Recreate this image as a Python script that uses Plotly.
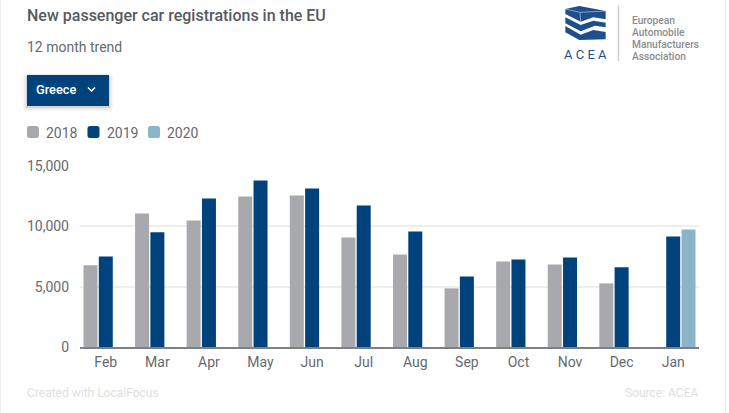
import plotly.graph_objects as go

months = ["Feb", "Mar", "Apr", "May", "Jun", "Jul", "Aug", "Sep", "Oct", "Nov", "Dec", "Jan"]
y2018 = [6770, 11070, 10490, 12480, 12560, 9080, 7670, 4860, 7090, 6840, 5270, None]
y2019 = [7510, 9500, 12310, 13800, 13140, 11730, 9580, 5850, 7260, 7420, 6600, 9160]
y2020 = [None] * 11 + [9740]
yticks = [0, 5000, 10000, 15000]
ytick_labels = ["0", "5,000", "10,000", "15,000"]

W, H = 729, 413
L, R, T, B = 80, 699, 166, 347
GRAY, BLUE, LIGHT = "#a8a9ad", "#00437c", "#8ab4c7"
FONT = "Roboto"

def px(x):
    return (x - L) / (R - L)

def py(y):
    return (B - y) / (B - T)

def path(points):
    return "M" + " L".join(f"{px(x):.5f},{py(y):.5f}" for x, y in points) + " Z"

def rounded(x0, y0, x1, y1, r):
    p = lambda x, y: f"{px(x):.5f},{py(y):.5f}"
    return (f"M{p(x0 + r, y0)} L{p(x1 - r, y0)} Q{p(x1, y0)} {p(x1, y0 + r)} L{p(x1, y1 - r)} "
            f"Q{p(x1, y1)} {p(x1 - r, y1)} L{p(x0 + r, y1)} Q{p(x0, y1)} {p(x0, y1 - r)} "
            f"L{p(x0, y0 + r)} Q{p(x0, y0)} {p(x0 + r, y0)} Z")

def logo(points):
    return path([(540 + x / 3, y / 3) for x, y in points])

shapes = []

def add_path(d, fill, opacity=1):
    shapes.append(dict(type="path", xref="paper", yref="paper", path=d, fillcolor=fill,
                       line=dict(width=0), opacity=opacity, layer="above"))

def add_line(x0, y0, x1, y1, color, width=1):
    shapes.append(dict(type="line", xref="paper", yref="paper", x0=px(x0), y0=py(y0), x1=px(x1), y1=py(y1),
                       line=dict(color=color, width=width), layer="above"))

annotations = []

def text(x, y, s, size, color, anchor="left", weight=400):
    annotations.append(dict(text=s, x=px(x), y=py(y), xref="paper", yref="paper", xanchor=anchor, yanchor="middle",
                            showarrow=False, align=anchor, borderpad=0,
                            font=dict(family=FONT, size=size, color=color, weight=weight)))

# page edges
add_line(0.5, 0, 0.5, H, "#efefef", 1)
add_line(725.5, 0, 725.5, H, "#efefef", 1)

# heading
text(26, 15, "New passenger car registrations in the EU", 16, "#555a5f", weight=500)
text(26, 47, "12 month trend", 14, "#666a6e")

# dropdown button
for grow, op in [(4, 0.04), (2.5, 0.05), (1, 0.08)]:
    add_path(rounded(27 - grow, 75 - grow + 2, 109 + grow, 106 + grow + 1, grow), "#000000", op)
add_path(path([(27, 75), (109, 75), (109, 106), (27, 106)]), BLUE)
text(35, 89.5, "Greece", 12.8, "#ffffff", weight=500)
shapes.append(dict(type="path", xref="paper", yref="paper", layer="above",
                   path=f"M{px(88):.5f},{py(87.5):.5f} L{px(91.5):.5f},{py(91):.5f} L{px(95):.5f},{py(87.5):.5f}",
                   line=dict(color="#ffffff", width=1.5)))

# legend
for x0, color, label in [(27, GRAY, "2018"), (87.5, BLUE, "2019"), (148, LIGHT, "2020")]:
    add_path(rounded(x0, 126, x0 + 12, 138, 2.5), color)
    text(x0 + 18, 132.5, label, 14, "#666a6e")

# logo
add_path(logo([(76, 27), (118, 18), (197, 33), (197, 58), (160, 52), (122, 65), (76, 42)]), "#1d4f8c")
add_path(logo([(76, 52), (122, 75), (160, 62), (197, 68), (197, 82), (165, 77), (122, 94), (76, 70)]), "#1d4f8c")
add_path(logo([(76, 78), (122, 104), (160, 90), (197, 96), (197, 118), (118, 120), (76, 97)]), "#1d4f8c")
shapes.append(dict(type="path", xref="paper", yref="paper", layer="above", opacity=0.45,
                   path=f"M{px(540 + 76 / 3):.5f},{py(27 / 3):.5f} L{px(540 + 120 / 3):.5f},{py(37 / 3):.5f} "
                        f"L{px(540 + 197 / 3):.5f},{py(33 / 3):.5f} M{px(540 + 120 / 3):.5f},{py(37 / 3):.5f} "
                        f"L{px(540 + 122 / 3):.5f},{py(65 / 3):.5f}",
                   line=dict(color="#ffffff", width=1)))
text(585, 55, "A C E A", 13, "#1d4f8c", anchor="center")
add_line(618.5, 5, 618.5, 61, "#cfcfcf", 1.5)
for y, s in [(20.5, "European"), (32.5, "Automobile"), (44.5, "Manufacturers"), (56, "Association")]:
    text(631, y, s, 10.2, "#8a8c8e", weight=500)

# footer
text(26, 393, "Created with LocalFocus", 12, "#dedede")
text(699, 393, "Source: ACEA", 12, "#dedede", anchor="right")

fig = go.Figure()
for name, values, color in [("2018", y2018, GRAY), ("2019", y2019, BLUE), ("2020", y2020, LIGHT)]:
    fig.add_trace(go.Bar(name=name, x=months, y=values, marker=dict(color=color, line=dict(width=0))))

fig.update_layout(
    width=W, height=H, autosize=False,
    margin=dict(l=L, r=W - R, t=T, b=H - B, pad=0),
    paper_bgcolor="#ffffff", plot_bgcolor="#ffffff",
    barmode="group", bargap=0.11, bargroupgap=0.085,
    showlegend=False,
    font=dict(family=FONT, size=14, color="#666a6e"),
    shapes=shapes, annotations=annotations,
    xaxis=dict(type="category", categoryorder="array", categoryarray=months, range=[-0.5, 11.5],
               showgrid=False, showline=True, linecolor="#808080", linewidth=2, ticks="", zeroline=False,
               ticklabelstandoff=1, tickfont=dict(family=FONT, size=14, color="#666a6e")),
    yaxis=dict(range=[0, 15000], tickvals=yticks, ticktext=ytick_labels, showgrid=True, gridcolor="#eeeeee",
               gridwidth=2, zeroline=False, showline=False, ticks="", ticklabelstandoff=10,
               tickfont=dict(family=FONT, size=14, color="#666a6e")),
)

fig.write_html("out.html", config=dict(displayModeBar=False),
               post_script="document.body.style.margin='0';document.body.style.overflow='hidden';")
